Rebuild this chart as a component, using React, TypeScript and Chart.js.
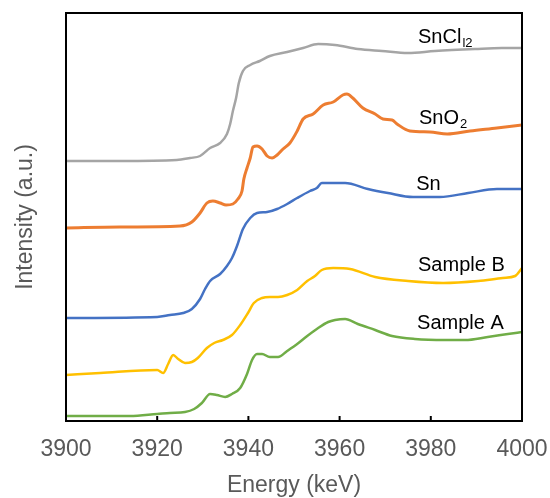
import React, { useEffect, useRef } from "react";
import { Chart, registerables } from "chart.js";

Chart.register(...registerables);

const xTicks = [3900, 3920, 3940, 3960, 3980, 4000];

const snCl2E = [3900, 3911.8, 3924.3, 3927.2, 3929.4, 3931.6, 3933.8, 3935.3, 3936.0, 3936.6, 3937.3, 3937.9, 3938.8, 3940.4, 3942.5, 3944.7, 3948.5, 3952.0, 3955.3, 3959.0, 3964.0, 3969.3, 3975.0, 3980.9, 3989.7, 3995.6, 4000];
const snCl2V = [260, 260, 261, 263, 265, 273, 278, 287, 297, 310, 323, 338, 350, 356, 360, 365, 369, 373, 377, 376, 372, 370, 368, 370, 372, 373, 373];

const snO2E = [3900, 3911.8, 3925.0, 3927.6, 3929.4, 3930.9, 3932.2, 3933.8, 3935.1, 3936.6, 3937.7, 3938.6, 3939.0, 3939.7, 3940.4, 3941.0, 3941.9, 3943.0, 3944.1, 3945.2, 3946.3, 3947.6, 3949.1, 3950.7, 3952.0, 3954.2, 3956.4, 3958.6, 3960.7, 3961.6, 3962.9, 3965.1, 3967.8, 3969.5, 3971.5, 3972.6, 3975.4, 3979.8, 3983.6, 3988.6, 3994.5, 4000];
const snO2V = [193, 194, 195, 199, 208, 218, 220, 218, 216, 217, 222, 230, 242, 253, 263, 274, 275, 272, 265, 263, 266, 272, 278, 290, 302, 307, 316, 319, 326, 327, 323, 313, 307, 302, 301, 297, 290, 289, 287, 290, 293, 296];

const snE = [3900, 3920.0, 3922.8, 3925.7, 3927.6, 3929.4, 3930.5, 3931.6, 3933.8, 3935.3, 3936.4, 3937.5, 3938.8, 3940.4, 3941.9, 3944.1, 3946.3, 3948.5, 3950.7, 3953.5, 3955.0, 3956.1, 3959.4, 3961.2, 3966.2, 3970.6, 3976.1, 3982.0, 3988.2, 3994.5, 4000];
const snV = [103, 104, 106, 108, 112, 122, 132, 140, 147, 155, 163, 175, 192, 203, 208, 209, 212, 217, 223, 230, 233, 238, 238, 238, 232, 228, 224, 224, 228, 232, 232];

const sampleBE = [3900, 3907.5, 3920.0, 3921.3, 3922.4, 3923.5, 3924.6, 3926.1, 3927.6, 3928.9, 3930.9, 3932.5, 3934.4, 3936.4, 3938.2, 3939.9, 3941.2, 3943.0, 3944.7, 3946.5, 3948.5, 3950.7, 3952.9, 3954.6, 3956.1, 3958.6, 3962.3, 3967.8, 3975.0, 3982.7, 3990.4, 3995.8, 3998.5, 4000];
const sampleBV = [46, 48, 51, 48, 57, 66, 62, 58, 59, 63, 73, 78, 81, 86, 96, 108, 118, 123, 124, 124, 126, 131, 140, 145, 151, 153, 152, 144, 140, 138, 140, 143, 145, 153];

const sampleAE = [3900, 3914.0, 3920.0, 3922.8, 3926.1, 3928.1, 3929.8, 3931.6, 3933.1, 3934.9, 3936.4, 3938.2, 3939.7, 3940.8, 3941.9, 3943.0, 3944.7, 3946.5, 3948.5, 3950.7, 3952.9, 3955.3, 3957.5, 3959.0, 3961.2, 3964.0, 3967.8, 3971.5, 3976.5, 3983.1, 3987.5, 3992.5, 3996.9, 4000];
const sampleAV = [5, 5, 7, 8, 9, 12, 18, 27, 26, 24, 27, 33, 47, 61, 67, 67, 64, 64, 70, 77, 85, 93, 99, 101, 102, 97, 91, 85, 82, 81, 81, 84, 87, 89];

const seriesNames = ["SnCl2", "SnO2", "Sn", "Sample B", "Sample A"];
const seriesColors = ["#A5A5A5", "#ED7D31", "#4472C4", "#FFC000", "#70AD47"];

// curve labels: main text, subscript, anchor energy, anchor intensity (baseline)
const labelTexts = ["SnCl", "SnO", "Sn", "Sample B", "Sample A"];
const labelSubs = ["l2", "2", "", "", ""];
const labelE = [3977.2, 3977.4, 3976.8, 3977.2, 3977.0];
const labelV = [378, 297, 231, 150, 92];

const FONT = "'Liberation Sans', Arial, sans-serif";

function pts(e: number[], v: number[]) {
  return e.map((x, i) => ({ x, y: v[i] }));
}

const framePlugin = {
  id: "frameAndLabels",
  afterDatasetsDraw(chart: any) {
    const { ctx, chartArea, scales } = chart;
    const xs = scales.x;
    const ys = scales.y;
    ctx.save();
    ctx.strokeStyle = "#000";
    ctx.lineWidth = 2;
    ctx.strokeRect(chartArea.left, chartArea.top, chartArea.right - chartArea.left, chartArea.bottom - chartArea.top);
    xTicks.forEach((t) => {
      const px = xs.getPixelForValue(t);
      ctx.beginPath();
      ctx.moveTo(px, chartArea.bottom);
      ctx.lineTo(px, chartArea.bottom - 5);
      ctx.stroke();
    });
    ctx.fillStyle = "#000";
    ctx.textBaseline = "alphabetic";
    ctx.textAlign = "left";
    labelTexts.forEach((txt, i) => {
      const px = xs.getPixelForValue(labelE[i]);
      const py = ys.getPixelForValue(labelV[i]);
      ctx.font = `20px ${FONT}`;
      ctx.fillText(txt, px, py);
      if (labelSubs[i]) {
        const w = ctx.measureText(txt).width;
        ctx.font = `13px ${FONT}`;
        ctx.fillText(labelSubs[i], px + w + 1, py + 4);
      }
    });
    ctx.restore();
  },
};

export default function App() {
  const ref = useRef<HTMLCanvasElement | null>(null);
  useEffect(() => {
    document.body.style.margin = "0";
    if (!ref.current) return;
    const data = [
      pts(snCl2E, snCl2V),
      pts(snO2E, snO2V),
      pts(snE, snV),
      pts(sampleBE, sampleBV),
      pts(sampleAE, sampleAV),
    ];
    const widths = [2.5, 3, 2.5, 2.5, 2.5];
    const chart = new Chart(ref.current, {
      type: "line",
      data: {
        datasets: data.map((d, i) => ({
          label: seriesNames[i],
          data: d,
          borderColor: seriesColors[i],
          backgroundColor: seriesColors[i],
          borderWidth: widths[i],
          pointRadius: 0,
          fill: false,
          cubicInterpolationMode: "monotone" as const,
        })),
      },
      options: {
        responsive: false,
        animation: false,
        layout: { padding: { top: 13, right: 28, left: 0, bottom: 0 } },
        plugins: { legend: { display: false }, tooltip: { enabled: false } },
        scales: {
          x: {
            type: "linear",
            min: 3900,
            max: 4000,
            grid: { display: false, drawTicks: false },
            border: { display: false },
            ticks: {
              stepSize: 20,
              padding: 15,
              color: "#595959",
              font: { family: FONT, size: 23 },
              maxRotation: 0,
              callback: (v: any) => String(v),
            },
            title: {
              display: true,
              text: "Energy (keV)",
              color: "#595959",
              font: { family: FONT, size: 23, lineHeight: 1.1 },
              padding: { top: 0, bottom: 0 },
            },
            afterFit: (s: any) => {
              s.height = 77;
              s.paddingLeft = 0;
              s.paddingRight = 0;
            },
          },
          y: {
            type: "linear",
            min: 0,
            max: 408,
            grid: { display: false, drawTicks: false },
            border: { display: false },
            ticks: { display: false },
            title: {
              display: true,
              text: "Intensity (a.u.)",
              color: "#595959",
              font: { family: FONT, size: 23, lineHeight: 1 },
              padding: { top: 14, bottom: 0 },
            },
            afterFit: (s: any) => {
              s.width = 66;
            },
          },
        },
      },
      plugins: [framePlugin],
    });
    return () => chart.destroy();
  }, []);
  return (
    <div style={{ position: "fixed", left: 0, top: 0, width: 550, height: 498, background: "#fff" }}>
      <canvas ref={ref} width={550} height={498} />
    </div>
  );
}
